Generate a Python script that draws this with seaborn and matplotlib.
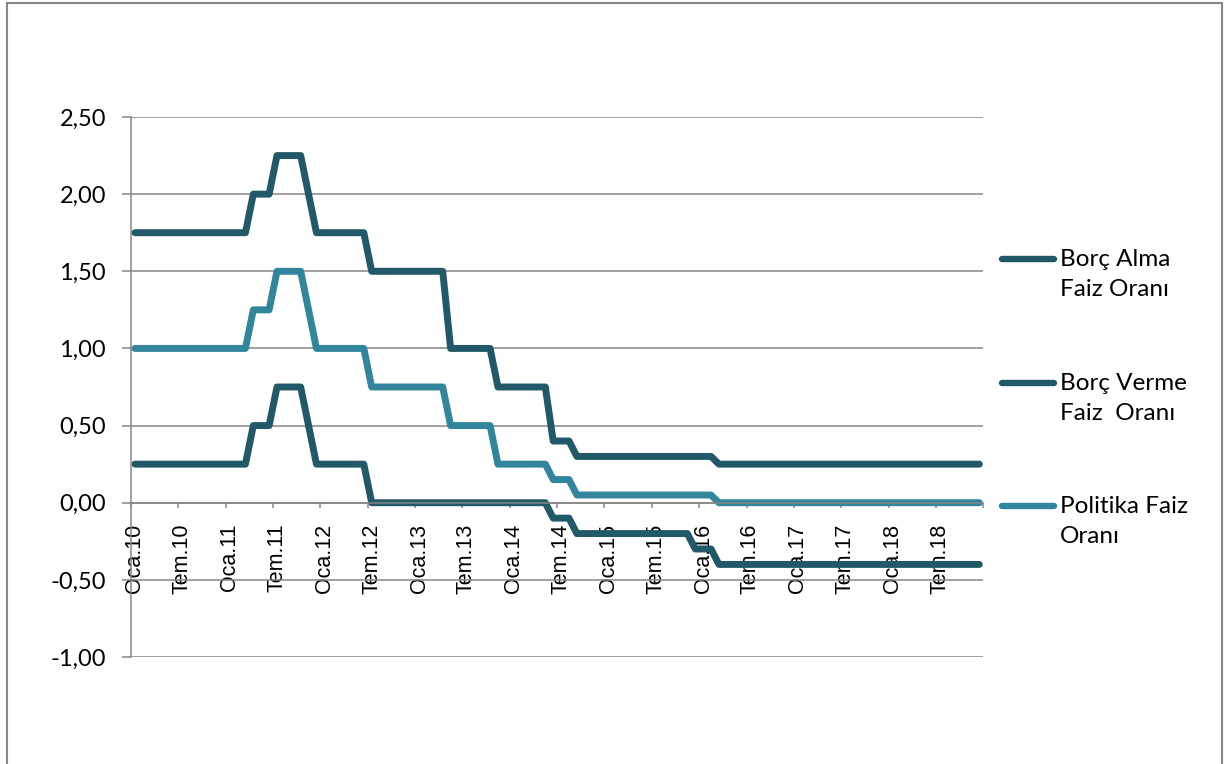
import pandas as pd
import seaborn as sns
import matplotlib.pyplot as plt
from matplotlib.lines import Line2D
from matplotlib.patches import Rectangle

# x ekseni: Ocak 2010 - Aralık 2018, aylık
ay_adlari = ["Oca", "Şub", "Mar", "Nis", "May", "Haz",
             "Tem", "Ağu", "Eyl", "Eki", "Kas", "Ara"]
yillar = ["10", "11", "12", "13", "14", "15", "16", "17", "18"]
aylar = [f"{a}.{y}" for y in yillar for a in ay_adlari]

# her satır bir yıl (12 ay)
borc_alma = [
    0.25, 0.25, 0.25, 0.25, 0.25, 0.25, 0.25, 0.25, 0.25, 0.25, 0.25, 0.25,
    0.25, 0.25, 0.25, 0.50, 0.50, 0.50, 0.75, 0.75, 0.75, 0.75, 0.50, 0.25,
    0.25, 0.25, 0.25, 0.25, 0.25, 0.25, 0.00, 0.00, 0.00, 0.00, 0.00, 0.00,
    0.00, 0.00, 0.00, 0.00, 0.00, 0.00, 0.00, 0.00, 0.00, 0.00, 0.00, 0.00,
    0.00, 0.00, 0.00, 0.00, 0.00, -0.10, -0.10, -0.10, -0.20, -0.20, -0.20, -0.20,
    -0.20, -0.20, -0.20, -0.20, -0.20, -0.20, -0.20, -0.20, -0.20, -0.20, -0.20, -0.30,
    -0.30, -0.30, -0.40, -0.40, -0.40, -0.40, -0.40, -0.40, -0.40, -0.40, -0.40, -0.40,
    -0.40, -0.40, -0.40, -0.40, -0.40, -0.40, -0.40, -0.40, -0.40, -0.40, -0.40, -0.40,
    -0.40, -0.40, -0.40, -0.40, -0.40, -0.40, -0.40, -0.40, -0.40, -0.40, -0.40, -0.40,
]
borc_verme = [
    1.75, 1.75, 1.75, 1.75, 1.75, 1.75, 1.75, 1.75, 1.75, 1.75, 1.75, 1.75,
    1.75, 1.75, 1.75, 2.00, 2.00, 2.00, 2.25, 2.25, 2.25, 2.25, 2.00, 1.75,
    1.75, 1.75, 1.75, 1.75, 1.75, 1.75, 1.50, 1.50, 1.50, 1.50, 1.50, 1.50,
    1.50, 1.50, 1.50, 1.50, 1.00, 1.00, 1.00, 1.00, 1.00, 1.00, 0.75, 0.75,
    0.75, 0.75, 0.75, 0.75, 0.75, 0.40, 0.40, 0.40, 0.30, 0.30, 0.30, 0.30,
    0.30, 0.30, 0.30, 0.30, 0.30, 0.30, 0.30, 0.30, 0.30, 0.30, 0.30, 0.30,
    0.30, 0.30, 0.25, 0.25, 0.25, 0.25, 0.25, 0.25, 0.25, 0.25, 0.25, 0.25,
    0.25, 0.25, 0.25, 0.25, 0.25, 0.25, 0.25, 0.25, 0.25, 0.25, 0.25, 0.25,
    0.25, 0.25, 0.25, 0.25, 0.25, 0.25, 0.25, 0.25, 0.25, 0.25, 0.25, 0.25,
]
politika = [
    1.00, 1.00, 1.00, 1.00, 1.00, 1.00, 1.00, 1.00, 1.00, 1.00, 1.00, 1.00,
    1.00, 1.00, 1.00, 1.25, 1.25, 1.25, 1.50, 1.50, 1.50, 1.50, 1.25, 1.00,
    1.00, 1.00, 1.00, 1.00, 1.00, 1.00, 0.75, 0.75, 0.75, 0.75, 0.75, 0.75,
    0.75, 0.75, 0.75, 0.75, 0.50, 0.50, 0.50, 0.50, 0.50, 0.50, 0.25, 0.25,
    0.25, 0.25, 0.25, 0.25, 0.25, 0.15, 0.15, 0.15, 0.05, 0.05, 0.05, 0.05,
    0.05, 0.05, 0.05, 0.05, 0.05, 0.05, 0.05, 0.05, 0.05, 0.05, 0.05, 0.05,
    0.05, 0.05, 0.00, 0.00, 0.00, 0.00, 0.00, 0.00, 0.00, 0.00, 0.00, 0.00,
    0.00, 0.00, 0.00, 0.00, 0.00, 0.00, 0.00, 0.00, 0.00, 0.00, 0.00, 0.00,
    0.00, 0.00, 0.00, 0.00, 0.00, 0.00, 0.00, 0.00, 0.00, 0.00, 0.00, 0.00,
]

seriler = ["Borç Alma\nFaiz Oranı", "Borç Verme\nFaiz  Oranı", "Politika Faiz\nOranı"]
renkler = ["#215968", "#215968", "#31859C"]

y_ticks = [-1.0, -0.5, 0.0, 0.5, 1.0, 1.5, 2.0, 2.5]
y_labels = ["-1,00", "-0,50", "0,00", "0,50", "1,00", "1,50", "2,00", "2,50"]

GRI = "#868686"
W, H = 1229, 764

df = pd.concat([
    pd.DataFrame({"ay_no": range(len(aylar)), "oran": v, "seri": s})
    for s, v in zip(seriler, [borc_alma, borc_verme, politika])
])

sns.set_style("white")
plt.rcParams["font.family"] = ["Lato", "DejaVu Sans"]
plt.rcParams["text.color"] = "black"

fig = plt.figure(figsize=(W / 100, H / 100), dpi=100)
ax = fig.add_axes([131 / W, 1 - 657 / H, (983.3 - 131) / W, (657 - 117) / H])

sns.lineplot(data=df, x="ay_no", y="oran", hue="seri", hue_order=seriler,
             palette=dict(zip(seriler, renkler)), linewidth=5, legend=False, ax=ax)
for ln in ax.lines:
    ln.set_solid_capstyle("round")
    ln.set_solid_joinstyle("round")

ax.set_xlim(-0.5, len(aylar) - 0.5)
ax.set_ylim(-1.0, 2.5)
ax.set_xlabel("")
ax.set_ylabel("")

# y ekseni
ax.set_yticks(y_ticks)
ax.set_yticklabels(y_labels)
ax.yaxis.grid(True, color=GRI, linewidth=1.1)
ax.xaxis.grid(False)
ax.tick_params(axis="y", length=6.5, width=1.1, color=GRI, pad=11.5,
               labelsize=17, labelcolor="black", left=True)

# x ekseni sıfırdan geçiyor
for side in ["top", "right"]:
    ax.spines[side].set_visible(False)
for side in ["left", "bottom"]:
    ax.spines[side].set_color(GRI)
    ax.spines[side].set_linewidth(1.1)
ax.spines["bottom"].set_position(("data", 0))

etiket_yeri = list(range(0, len(aylar), 6))
ax.set_xticks(etiket_yeri)
ax.set_xticklabels([aylar[i] for i in etiket_yeri])
ax.set_xticks([i - 0.5 for i in etiket_yeri] + [len(aylar) - 0.5], minor=True)
ax.tick_params(axis="x", which="major", length=0, pad=15, labelsize=15.5,
               labelcolor="black", labelrotation=90)
ax.tick_params(axis="x", which="minor", length=3.6, width=1.1, color=GRI,
               direction="out", bottom=True)
for lbl in ax.get_xticklabels():
    lbl.set_family(["Liberation Sans", "DejaVu Sans"])

# açıklama (sağ tarafta), çizgi ilk satırla aynı hizada
for s, c, y in zip(seriler, renkler, [259, 383, 506]):
    fig.add_artist(Line2D([1002 / W, 1054 / W], [1 - y / H, 1 - y / H],
                          color=c, linewidth=4.6, solid_capstyle="round"))
    fig.text(1060 / W, 1 - (y - 10) / H, s, fontsize=17.5, va="top",
             ha="left", linespacing=1.52, color="black")

# grafik çerçevesi
fig.add_artist(Rectangle((7 / W, -0.05), (1222 - 7) / W, 1.05 - 2.5 / H,
                         transform=fig.transFigure, fill=False,
                         edgecolor=GRI, linewidth=1.5))

fig.savefig("out.png", dpi=100)
